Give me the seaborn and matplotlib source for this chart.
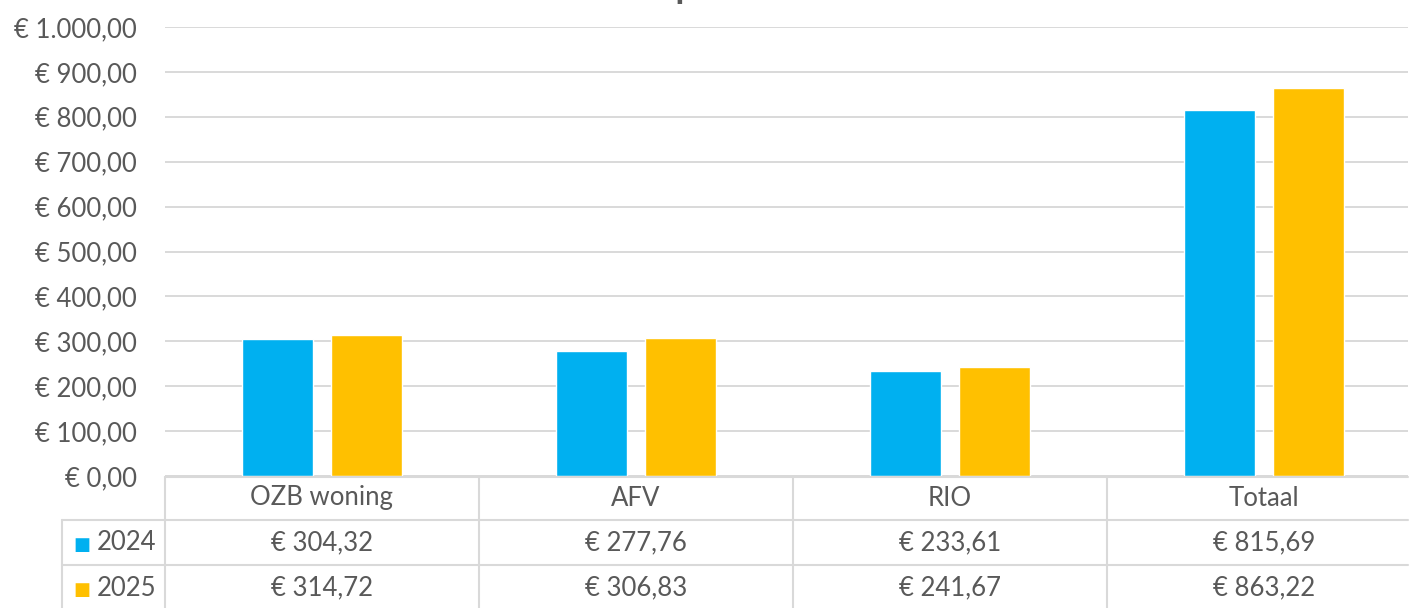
"""
Lastendruk eenpersoonshuishouden 2024 vs 2025
"""
import numpy as np
import pandas as pd
import matplotlib
matplotlib.use("Agg")
import matplotlib.pyplot as plt
import seaborn as sns

# Data
categorieen = ["OZB woning", "AFV", "RIO", "Totaal"]
jaren = ["2024", "2025"]
waarden_2024 = [304.32, 277.76, 233.61, 815.69]
waarden_2025 = [314.72, 306.83, 241.67, 863.22]
y_ticks = list(range(0, 1001, 100))

kleuren = {"2024": "#00B0F0", "2025": "#FFC000"}
tekst_kleur = "#595959"
lijn_kleur = "#D9D9D9"
fs = 18.5


def euro(v):
    # Nederlandse notatie: € 1.000,00
    s = f"{v:,.2f}".replace(",", "X").replace(".", ",").replace("X", ".")
    return f"€ {s}"


df = pd.DataFrame({
    "categorie": categorieen * 2,
    "jaar": ["2024"] * 4 + ["2025"] * 4,
    "waarde": waarden_2024 + waarden_2025,
})

sns.set_theme(style="white")
plt.rcParams["font.family"] = ["Lato", "DejaVu Sans"]

W, H = 1415, 608
fig = plt.figure(figsize=(W / 100, H / 100), dpi=100)
ax_l, ax_r, ax_t, ax_b = 165, 1408, 27, 476
kol_breedte = 314  # pixels per categorie
ax = fig.add_axes([ax_l / W, 1 - ax_b / H, (ax_r - ax_l) / W, (ax_b - ax_t) / H])

sns.barplot(data=df, x="categorie", y="waarde", hue="jaar", order=categorieen,
            hue_order=jaren, palette=kleuren, width=0.567, gap=0.2,
            saturation=1, legend=False, ax=ax)

ax.set_ylim(0, 1000)
ax.set_xlim(-0.5, -0.5 + (ax_r - ax_l) / kol_breedte)
ax.set_yticks(y_ticks)
ax.set_yticklabels([euro(v) for v in y_ticks], color=tekst_kleur, fontsize=fs)
ax.tick_params(axis="y", length=0, pad=20)
ax.set_xticks([])
ax.set_xlabel("")
ax.set_ylabel("")
ax.grid(axis="y", color=lijn_kleur, linewidth=1.4)
ax.set_axisbelow(True)
for s in ax.spines.values():
    s.set_visible(False)


# Datatabel onder de grafiek (pixelcoordinaten -> axes coordinaten)
def ax_x(px):
    return (px - ax_l) / (ax_r - ax_l)


def ax_y(py):
    return (ax_b - py) / (ax_b - ax_t)


kol_grenzen = [ax_l + kol_breedte * i for i in range(5)]
rij_grenzen = [477, 520, 565, 612]
lijnen = dict(color=lijn_kleur, linewidth=1.5, clip_on=False, transform=ax.transAxes)

ax.plot([ax_x(165), ax_x(ax_r)], [ax_y(477)] * 2, **lijnen)
for py in rij_grenzen[1:]:
    ax.plot([ax_x(62), ax_x(ax_r)], [ax_y(py)] * 2, **lijnen)
for px in kol_grenzen[:-1]:
    ax.plot([ax_x(px)] * 2, [ax_y(477), ax_y(612)], **lijnen)
ax.plot([ax_x(62)] * 2, [ax_y(520), ax_y(612)], **lijnen)

for i, cat in enumerate(categorieen):
    xm = ax_x((kol_grenzen[i] + kol_grenzen[i + 1]) / 2)
    ax.text(xm, ax_y(498), cat, ha="center", va="center", fontsize=fs,
            color=tekst_kleur, transform=ax.transAxes, clip_on=False)
    for j, waarden in enumerate([waarden_2024, waarden_2025]):
        ax.text(xm, ax_y(543 + 45 * j), euro(waarden[i]), ha="center", va="center",
                fontsize=fs, color=tekst_kleur, transform=ax.transAxes, clip_on=False)

for j, jaar in enumerate(jaren):
    ax.text(ax_x(73), ax_y(545 + 45 * j), "■", ha="left", va="center", fontsize=13,
            color=kleuren[jaar], transform=ax.transAxes, clip_on=False,
            family="DejaVu Sans")
    ax.text(ax_x(97), ax_y(543 + 45 * j), jaar, ha="left", va="center", fontsize=fs,
            color=tekst_kleur, transform=ax.transAxes, clip_on=False)

# Titel valt grotendeels buiten beeld, zoals in het origineel
fig.text(812 / W, 1 + 2 / H, "Eenpersoonshuishouden", ha="center", va="baseline",
         fontsize=26, fontweight="bold", color=tekst_kleur)

fig.savefig("out.png", dpi=100)
